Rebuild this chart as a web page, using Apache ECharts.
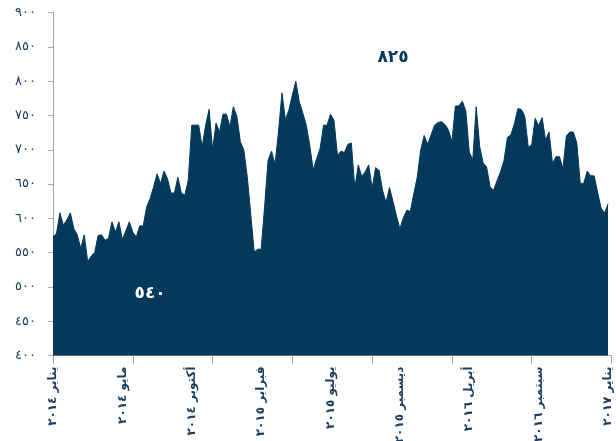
<!DOCTYPE html>
<html>
<head>
<meta charset="utf-8">
<script src="https://cdn.jsdelivr.net/npm/echarts@6/dist/echarts.min.js"></script>
<style>
html,body{margin:0;padding:0;background:#fff;}
#chart{width:616px;height:441px;}
</style>
</head>
<body>
<div id="chart"></div>
<script>
// Weekly values, Jan 2014 - Jan 2017
const values = [
573,578,608,590,598,608,585,576,556,576,
537,545,550,575,576,568,571,595,580,595,
569,582,595,580,573,589,589,617,629,646,
665,651,669,658,637,637,660,637,634,656,
736,736,736,704,736,759,700,739,726,752,
752,734,763,749,712,700,661,607,551,555,
555,617,685,698,679,726,783,744,758,780,
800,770,754,736,707,671,687,702,736,736,
752,743,692,698,696,708,710,644,678,661,
668,678,644,674,670,641,623,645,625,604,
585,601,612,610,636,660,700,721,708,722,
736,740,741,737,729,712,764,764,771,757,
697,685,763,705,681,675,646,641,655,668,
684,718,722,738,760,759,749,704,707,746,
735,747,714,726,680,690,690,673,720,726,
726,710,651,651,669,662,662,638,615,608,
621
];
// Labels shown every 20 weeks
const xLabels = ['يناير ٢٠١٤','مايو ٢٠١٤','أكتوبر ٢٠١٤','فبراير ٢٠١٥','يوليو ٢٠١٥','ديسمبر ٢٠١٥','أبريل ٢٠١٦','سبتمبر ٢٠١٦','يناير ٢٠١٧'];
const categoryCount = 162;
const yMin = 400, yMax = 900, yStep = 50;
const annotations = [
  {text: '٨٢٥', coord: [98, 835], color: '#053a5c'},
  {text: '٥٤٠', coord: [28, 491], color: '#ffffff'}
];

const digits = '٠١٢٣٤٥٦٧٨٩';
const toAr = s => String(s).replace(/[0-9]/g, d => digits[+d]);

const categories = [];
for (let i = 0; i < categoryCount; i++) categories.push(String(i));
const seriesData = values.slice();
while (seriesData.length < categoryCount) seriesData.push(null);

const navy = '#033a5b';
const labelColor = '#1d3f60';
const font = "'DejaVu Sans', sans-serif";

const chart = echarts.init(document.getElementById('chart'), null, {renderer: 'canvas'});
chart.setOption({
  animation: false,
  grid: {left: 53, right: 4.5, top: 12.7, bottom: 85.5, containLabel: false, outerBoundsMode: 'none'},
  xAxis: {
    type: 'category',
    data: categories,
    boundaryGap: false,
    axisLine: {show: true, lineStyle: {color: '#a6a6a6', width: 1}},
    axisTick: {show: true, interval: 22, length: 8, lineStyle: {color: '#a6a6a6'}},
    axisLabel: {
      interval: 19,
      rotate: 90,
      margin: 11,
      color: labelColor,
      fontFamily: font,
      fontSize: 12,
      fontWeight: 'bold',
      formatter: (v, idx) => (idx % 20 === 0 ? (xLabels[idx / 20] || '') : '')
    },
    splitLine: {show: false}
  },
  yAxis: {
    type: 'value',
    min: yMin, max: yMax, interval: yStep,
    axisLine: {show: true, lineStyle: {color: '#a6a6a6', width: 1}},
    axisTick: {show: true, length: 5, lineStyle: {color: '#a6a6a6'}},
    axisLabel: {
      color: labelColor, fontFamily: font, fontSize: 13, margin: 17,
      formatter: v => toAr(v)
    },
    splitLine: {show: false}
  },
  series: [{
    type: 'line',
    data: seriesData,
    symbol: 'none',
    connectNulls: false,
    lineStyle: {color: navy, width: 1},
    areaStyle: {color: navy, opacity: 1},
    markPoint: {
      symbol: 'circle',
      symbolSize: 0,
      silent: true,
      data: annotations.map(a => ({
        coord: a.coord,
        label: {show: true, position: 'inside', formatter: a.text, color: a.color,
                fontFamily: font, fontSize: 17, fontWeight: 'bold'}
      }))
    }
  }]
});
</script>
</body>
</html>
